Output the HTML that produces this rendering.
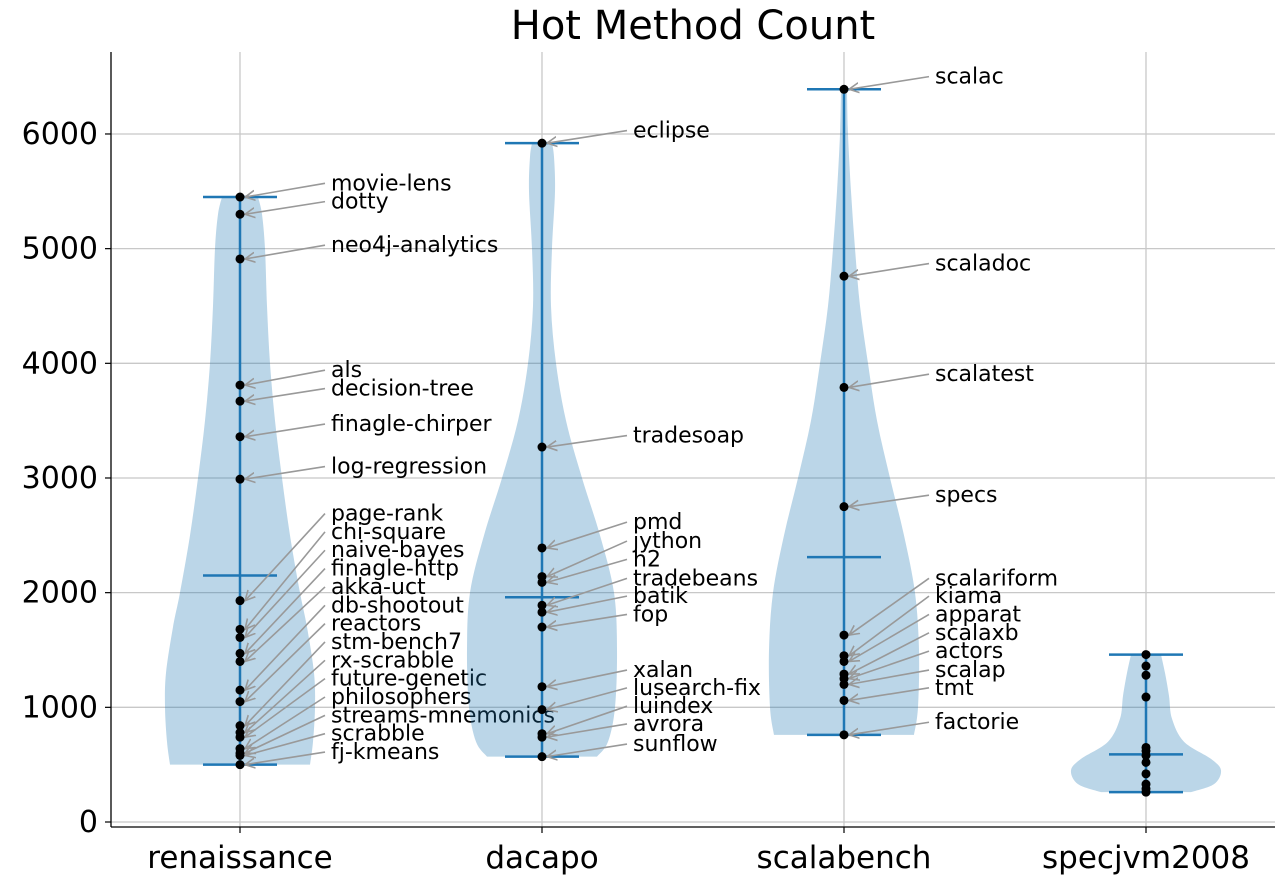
<!DOCTYPE html>
<html><head><meta charset="utf-8"><style>
html,body{margin:0;padding:0;background:#fff;}
svg{display:block;font-family:"DejaVu Sans","Liberation Sans",sans-serif;}
</style></head><body>
<svg id="chart" width="1283" height="882"></svg>
<script>
const categories=["renaissance","dacapo","scalabench","specjvm2008"];
const yTicks=[0,1000,2000,3000,4000,5000,6000];
const renNames=["movie-lens","dotty","neo4j-analytics","als","decision-tree","finagle-chirper","log-regression","page-rank","chi-square","naive-bayes","finagle-http","akka-uct","db-shootout","reactors","stm-bench7","rx-scrabble","future-genetic","philosophers","streams-mnemonics","scrabble","fj-kmeans"];
const renValues=[5450,5300,4910,3810,3670,3360,2990,1930,1680,1610,1470,1400,1150,1050,840,780,740,640,600,580,500];
const renLabelY=[5570,5410,5030,3940,3780,3470,3100,2690,2530,2370,2210,2050,1890,1730,1570,1410,1250,1090,930,770,610];
const dacNames=["eclipse","tradesoap","pmd","jython","h2","tradebeans","batik","fop","xalan","lusearch-fix","luindex","avrora","sunflow"];
const dacValues=[5920,3270,2390,2140,2090,1890,1830,1700,1180,980,770,740,570];
const dacLabelY=[6030,3370,2615,2450,2290,2125,1970,1810,1325,1170,1010,855,680];
const scaNames=["scalac","scaladoc","scalatest","specs","scalariform","kiama","apparat","scalaxb","actors","scalap","tmt","factorie"];
const scaValues=[6390,4760,3790,2750,1630,1450,1400,1290,1250,1200,1060,760];
const scaLabelY=[6500,4870,3905,2850,2125,1970,1810,1650,1490,1325,1170,870];
const specValues=[1460,1360,1280,1090,650,620,580,520,420,330,290,260];
const specNames=[];const specLabelY=[];
const means=[2150,1960,2310,590];
// violin density profiles: [value, relative width]
const renDens=[[500,70],[700,73],[1000,75],[1300,74],[1700,67],[2000,60],[2500,50],[3000,42],[3500,35],[4000,30],[4500,27],[5000,25],[5300,22],[5450,18]];
const dacDens=[[570,55],[700,66],[1000,73],[1500,75],[2000,72],[2500,58],[3000,40],[3500,24],[4000,14],[4500,9],[5000,10],[5500,13],[5800,12],[5920,10]];
const scaDens=[[760,70],[1000,74],[1500,75],[2000,71],[2500,60],[3000,46],[3500,33],[4000,24],[4500,16],[5000,11],[5500,7],[6000,4],[6390,3]];
const specDens=[[260,45],[330,68],[450,75],[550,65],[700,38],[900,26],[1100,23],[1300,19],[1460,15]];

const NS="http://www.w3.org/2000/svg";
const svg=document.getElementById('chart');
const L=111,R=1275,T=52,B=827;
const x=i=>240+i*302;
const y=v=>822-v*0.11467;
function mk(t,a,p){const e=document.createElementNS(NS,t);for(const k in a)e.setAttribute(k,a[k]);(p||svg).appendChild(e);return e;}
function smooth(pts){let d='M'+pts[0][0]+','+pts[0][1];for(let k=0;k<pts.length-1;k++){const p0=pts[Math.max(k-1,0)],p1=pts[k],p2=pts[k+1],p3=pts[Math.min(k+2,pts.length-1)];const c1=[p1[0]+(p2[0]-p0[0])/6,p1[1]+(p2[1]-p0[1])/6],c2=[p2[0]-(p3[0]-p1[0])/6,p2[1]-(p3[1]-p1[1])/6];d+=' C'+c1+' '+c2+' '+p2;}return d;}
mk('defs',{}).innerHTML='<marker id="ah" markerWidth="12" markerHeight="12" refX="10" refY="6" orient="auto" markerUnits="userSpaceOnUse"><path d="M0,1 L10,6 L0,11" fill="none" stroke="#999" stroke-width="1.6"/></marker>';
yTicks.forEach(v=>{
 const g=mk('line',{x1:L,x2:R,y1:y(v),y2:y(v),stroke:'#c8c8c8','stroke-width':1.3});
 
 
 mk('line',{x1:L-6,x2:L,y1:y(v),y2:y(v),stroke:'#000','stroke-width':1.2});
 const t=mk('text',{x:L-13,y:y(v)+10,'text-anchor':'end','font-size':30});
 t.textContent=v;
 
 
});
categories.forEach((c,i)=>{
 const g=mk('line',{x1:x(i),x2:x(i),y1:T,y2:B,stroke:'#c8c8c8','stroke-width':1.3});
 
 
 mk('line',{x1:x(i),x2:x(i),y1:B,y2:B+6,stroke:'#000','stroke-width':1.2});
 const t=mk('text',{x:x(i),y:868,'text-anchor':'middle','font-size':31});
 t.textContent=c;
 
 
});
mk('line',{x1:L,x2:L,y1:T,y2:B,stroke:'#000','stroke-width':1.3});
mk('line',{x1:L,x2:R,y1:B,y2:B,stroke:'#000','stroke-width':1.3});
const title=mk('text',{x:693,y:39,'text-anchor':'middle','font-size':40});
title.textContent='Hot Method Count';



const groups=[[renValues,renNames,renLabelY,renDens],[dacValues,dacNames,dacLabelY,dacDens],[scaValues,scaNames,scaLabelY,scaDens],[specValues,specNames,specLabelY,specDens]];
groups.forEach((g,i)=>{
 const [vals,names,ly,dens]=g;const cx=x(i);
 const right=dens.map(d=>[cx+d[1],y(d[0])]);
 const left=dens.slice().reverse().map(d=>[cx-d[1],y(d[0])]);
 const dpath=smooth(right)+' L'+left[0]+' '+smooth(left).slice(1)+' Z';
 const poly=mk('path',{d:dpath,fill:'#1f77b4','fill-opacity':0.3});
 
 
 const mn=Math.min(...vals),mx=Math.max(...vals);
 mk('line',{x1:cx,x2:cx,y1:y(mn),y2:y(mx),stroke:'#1f77b4','stroke-width':2.5});
 [mn,mx,means[i]].forEach(v=>mk('line',{x1:cx-37,x2:cx+37,y1:y(v),y2:y(v),stroke:'#1f77b4','stroke-width':2.5}));
 names.forEach((n,j)=>{
  mk('line',{x1:cx+85,y1:y(ly[j]),x2:cx+5,y2:y(vals[j]),stroke:'#999','stroke-width':1.6,'marker-end':'url(#ah)'});
  const t=mk('text',{x:cx+91,y:y(ly[j])+7,'font-size':22});
  t.textContent=n;
  
  
 });
 vals.forEach(v=>{
  const c=mk('circle',{cx:cx,cy:y(v),r:4.5,fill:'#000'});
  
  
 });
});
</script>
</body></html>
